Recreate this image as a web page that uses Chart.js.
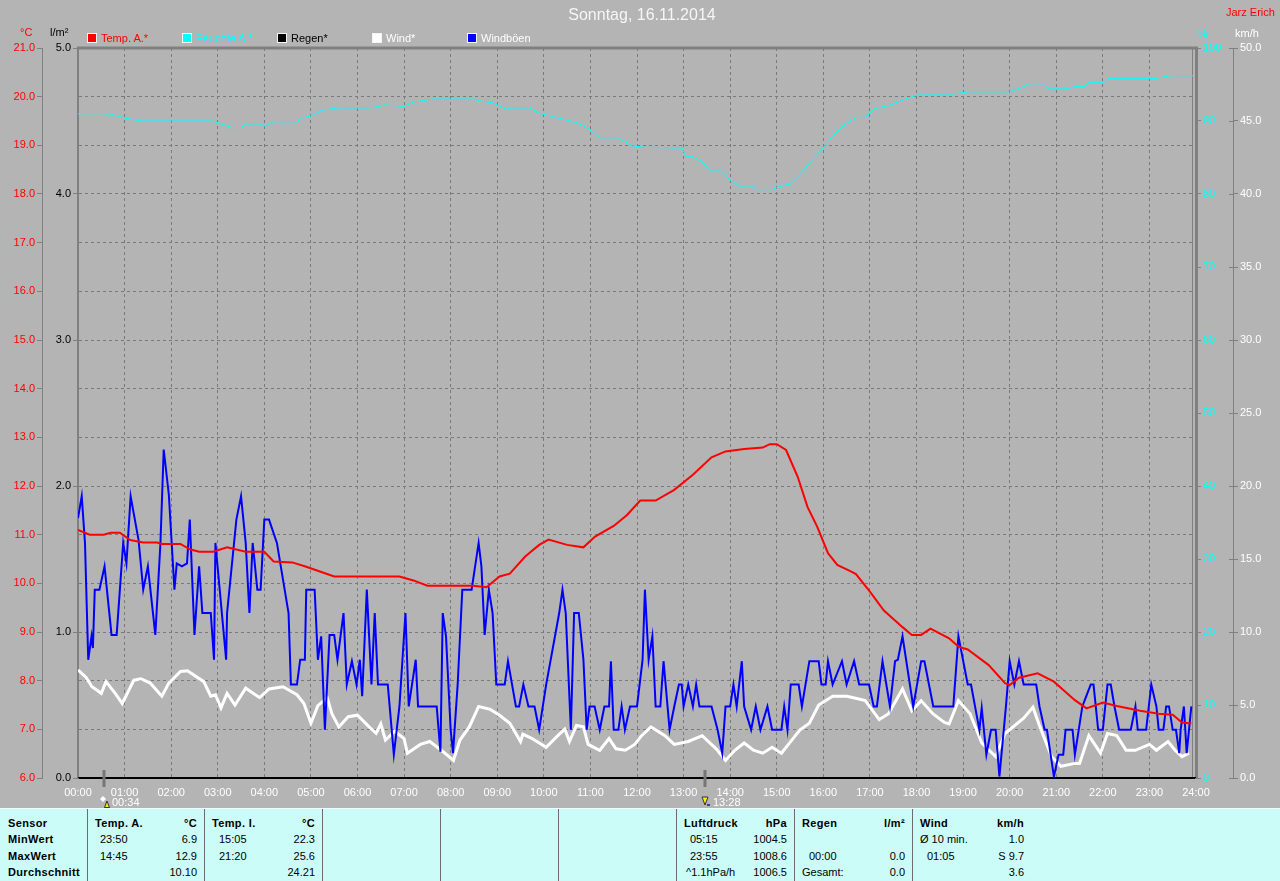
<!DOCTYPE html>
<html>
<head>
<meta charset="utf-8">
<script src="https://cdn.jsdelivr.net/npm/chart.js@4.4.1/dist/chart.umd.min.js"></script>
<style>
html,body{margin:0;padding:0;background:#b4b4b4;width:1280px;height:881px;overflow:hidden;font-family:"Liberation Sans",Arial,sans-serif;}
#c{position:absolute;left:0;top:0;}
.t{position:absolute;font-size:11px;line-height:12px;white-space:nowrap;}
.sq{position:absolute;width:8px;height:8px;border:1px solid #f4f4f4;}
#tbl{position:absolute;left:0;top:808px;width:1280px;height:73px;background:#ccfcf8;border-top:1px solid #eefefe;box-sizing:border-box;}
.col{position:absolute;top:0;height:73px;box-sizing:border-box;}
.cell{position:absolute;font-size:11px;line-height:14px;height:14px;white-space:nowrap;color:#000;}
.b{font-weight:bold;letter-spacing:0.35px;}
</style>
</head>
<body>
<canvas id="c" width="1280" height="808"></canvas>

<div class="t" style="left:0;width:1284px;text-align:center;top:6px;font-size:16px;line-height:18px;color:#f6f6f6;">Sonntag, 16.11.2014</div>
<div class="t" style="left:1226px;top:6px;color:#ff0000;">Jarz Erich</div>
<div class="t" style="left:20px;top:26px;color:#ff0000;">°C</div>
<div class="t" style="left:50px;top:26px;color:#000;">l/m²</div>
<div class="t" style="left:1198px;top:27px;color:#00ffff;">%</div>
<div class="t" style="left:1235px;top:27px;color:#fff;">km/h</div>
<div id="legend"></div>

<div id="tbl"></div>

<script>
// ---------- data ----------
const tickLabels = ['00:00','01:00','02:00','03:00','04:00','05:00','06:00','07:00','08:00','09:00','10:00','11:00','12:00',
  '13:00','14:00','15:00','16:00','17:00','18:00','19:00','20:00','21:00','22:00','23:00','24:00'];

const seriesNames = ['Temp. A.*','Feuchte A.*','Regen*','Wind*','Windböen'];

// Temperature outside (°C), time in hours
const tempTime = [0,0.25,0.55,0.7,0.9, 1.12,1.4,1.7,1.8,2.2, 2.4,2.6,2.9,3.2,3.6, 4.0,4.2,4.6,4.9,5.5,
  6.9,7.2,7.5,8.48,8.77, 9.05,9.27,9.6,9.9,10.1, 10.5,10.85,11.1,11.5,11.78, 12.07,12.4,12.8,13.2,13.6,
  13.9,14.3,14.7,14.85,15.0, 15.2,15.45,15.66,15.87,16.1, 16.3,16.6,16.7,17.0,17.3, 17.7,17.9,18.1,18.3,18.7,
  18.9,19.1,19.55,19.9,20.0, 20.2,20.6,20.95,21.4,21.65, 22.0,22.3,22.8,23.2,23.5, 23.7,23.9];
const tempVal = [11.10,11.0,11.0,11.04,11.04, 10.89,10.84,10.84,10.81,10.81, 10.70,10.65,10.65,10.74,10.65, 10.65,10.45,10.43,10.34,10.14,
  10.14,10.06,9.95,9.95,9.92, 10.14,10.2,10.55,10.79,10.9, 10.79,10.74,10.96,11.18,11.40, 11.70,11.70,11.92,12.23,12.59,
  12.71,12.76,12.79,12.86,12.86, 12.74,12.19,11.57,11.16,10.62, 10.38,10.24,10.19,9.83,9.44, 9.10,8.94,8.94,9.07,8.87,
  8.70,8.64,8.32,7.95,7.91, 8.06,8.15,7.98,7.60,7.43, 7.55,7.48,7.38,7.32,7.30, 7.14,7.12];

// Humidity outside (%)
const humTime = [0,0.6,0.65,0.72,1.0, 1.37,2.9,3.3,3.5,3.6, 3.9,4.0,4.2,4.7,4.8, 5.0,5.25,5.6,6.3,6.6,
  7.0,7.2,7.6,8.5,8.6, 8.9,9.2,9.3,9.7,9.9, 10.2,10.5,10.7,10.95,11.2, 11.6,11.9,12.15,12.97,13.05,
  13.2,13.4,13.55,13.8,14.0, 14.2,14.5,14.55,14.9,15.05, 15.3,15.45,15.7,15.95,16.2, 16.45,16.7,16.9,17.1,17.4,
  17.8,18.1,18.8,19.1,20.0, 20.3,20.4,20.7,20.85,21.2, 21.4,21.6,21.7,22.0,22.1, 23.1,23.45,23.95];
const humVal = [91.0,91.0,90.7,90.9,90.4, 90.0,90.0,89.1,89.1,89.6, 89.6,89.3,89.9,89.9,90.4, 90.7,91.5,91.8,91.8,92.2,
  92.0,92.6,93.0,93.0,92.8, 92.5,91.6,91.8,91.8,91.05, 90.6,90.1,89.8,89.0,87.7, 87.7,86.6,86.4,86.3,85.1,
  85.1,84.4,83.3,83.3,81.9, 81.1,81.1,80.6,80.6,81.0, 81.4,82.4,84.2,86.0,87.9, 89.5,90.5,90.5,91.7,92.1,
  93.1,93.7,93.7,94.0,94.0, 94.7,95.1,95.1,94.4,94.4, 94.7,94.7,95.25,95.25,95.8, 95.8,96.2,96.2];

// Rain (l/m²)
const rainTime = [0,24];
const rainVal = [0,0];

// Wind (km/h)
const windTime = [0,0.17,0.3,0.5,0.6,0.8,0.95,1.2,1.35,1.55, 1.8,1.95,2.2,2.35,2.7,2.85,2.95,3.07,3.2,3.37,
  3.6,3.9,4.1,4.4,4.7,4.85,5.0,5.15,5.35,5.45, 5.6,5.8,6.0,6.25,6.4,6.5,6.6,6.8,7.0,7.07,
  7.35,7.55,7.8,8.06,8.2,8.4,8.6,8.85,9.05,9.27, 9.5,9.55,9.75,10.05,10.3,10.45,10.55,10.7,10.85,10.95,
  11.2,11.4,11.55,11.75,11.95,12.1,12.3,12.6,12.8,13.1, 13.4,13.7,13.9,14.1,14.3,14.5,14.7,14.9,15.1,15.25,
  15.5,15.7,15.9,16.2,16.5,16.65,16.9,17.2,17.4,17.7, 17.9,18.1,18.35,18.6,18.7,18.9,19.15,19.4,19.7,19.9,
  20.3,20.5,20.65,20.9,21.1,21.4,21.5,21.7,21.95,22.1, 22.3,22.5,22.7,23.0,23.15,23.4,23.55,23.7,23.85];
const windVal = [7.4,6.9,6.25,5.8,6.6,5.8,5.1,6.7,6.8,6.5, 5.6,6.5,7.3,7.35,6.6,5.6,5.7,4.8,5.8,5.0,
  6.15,5.5,6.1,6.25,5.7,5.1,3.75,4.95,5.5,4.4, 3.5,4.2,4.3,3.5,3.06,3.7,2.6,3.2,2.7,1.7,
  2.3,2.5,1.9,1.2,2.6,3.5,4.9,4.7,4.3,3.75, 2.5,3.0,2.7,2.1,2.9,3.35,2.5,3.6,3.5,2.3,
  1.9,2.7,2.0,1.9,2.3,2.9,3.5,2.9,2.3,2.5, 2.9,2.0,1.2,1.9,2.4,1.9,1.7,2.1,1.7,2.3,
  3.3,3.75,5.0,5.6,5.6,5.5,5.3,4.0,4.4,6.1, 4.6,5.3,4.4,3.8,3.7,5.3,4.4,2.4,1.46,3.05,
  4.1,4.85,3.5,1.46,0.8,1.0,1.0,2.9,1.7,3.05, 2.9,1.9,1.9,2.3,1.9,2.5,1.9,1.46,1.7];

// Wind gusts (km/h)
const gustTime = [0,0.08,0.15,0.22,0.29,0.32,0.36,0.46,0.57,0.72, 0.83,0.97,1.04,1.13,1.3,1.4,1.5,1.66,1.77,1.84,
  1.95,2.07,2.12,2.23,2.34,2.4,2.5,2.6,2.67,2.85, 2.92,2.95,3.18,3.2,3.4,3.5,3.6,3.68,3.75,3.85,
  3.92,4.0,4.1,4.27,4.52,4.57,4.7,4.77,4.87,4.9, 5.08,5.15,5.22,5.3,5.4,5.5,5.57,5.7,5.77,5.88,
  5.98,6.05,6.1,6.2,6.3,6.37,6.44,6.65,6.78,6.9, 7.03,7.1,7.25,7.3,7.7,7.78,7.83,7.9,8.0,8.05,
  8.15,8.25,8.45,8.6,8.66,8.73,8.82,8.9,8.98,9.16, 9.23,9.4,9.47,9.56,9.67,9.8,9.9,10.05,10.33,10.4,
  10.47,10.58,10.65,10.75,10.85,10.92,10.98,11.09,11.2,11.3, 11.4,11.44,11.5,11.6,11.67,11.74,11.85,12.0,12.12,12.17,
  12.25,12.33,12.4,12.5,12.57,12.7,12.8,12.9,12.96,13.0, 13.1,13.2,13.27,13.34,13.6,13.73,13.83,13.9,14.0,14.07,
  14.14,14.25,14.3,14.45,14.55,14.65,14.8,14.9,15.1,15.16, 15.23,15.3,15.47,15.54,15.7,15.9,15.96,16.05,16.1,16.2,
  16.4,16.5,16.66,16.77,16.98,17.08,17.15,17.27,17.43,17.54, 17.6,17.7,17.93,18.1,18.17,18.36,18.79,18.9,19.1,19.17,
  19.35,19.4,19.5,19.6,19.7,19.78,19.92,20.0,20.1,20.2, 20.3,20.57,20.64,20.75,20.8,20.95,21.05,21.15,21.2,21.35,
  21.4,21.56,21.74,21.8,21.9,22.0,22.1,22.17,22.25,22.35, 22.6,22.7,22.75,22.93,23.04,23.15,23.2,23.3,23.36,23.42,
  23.5,23.57,23.64,23.67,23.74,23.8,23.9];
const gustVal = [17.8,19.3,16.1,8.1,9.7,8.9,12.9,12.9,14.5,9.8, 9.8,16.1,14.7,19.3,16.3,12.9,14.5,9.8,16.1,22.5,
  19.4,12.9,14.7,14.5,14.7,17.7,9.8,14.5,11.3,11.3, 8.1,16.1,8.1,11.3,17.7,19.3,16.1,11.3,16.1,12.9,
  12.9,17.7,17.7,16.1,11.3,6.4,6.4,8.1,8.1,12.9, 12.9,8.1,9.7,3.3,9.8,9.8,8.1,11.3,6.4,8.0,
  6.4,8.1,5.6,12.9,6.4,11.3,6.4,6.4,1.6,4.9, 11.3,4.9,8.1,4.9,4.9,1.8,11.3,9.7,3.3,1.7,
  6.4,12.9,12.9,16.1,14.5,9.8,12.9,11.3,6.4,6.4, 8.0,4.9,4.9,6.4,4.9,4.9,3.3,6.4,11.3,12.9,
  11.3,3.3,11.3,11.3,8.1,3.3,4.9,4.9,3.3,4.9, 4.9,8.0,3.3,3.3,4.9,3.3,4.9,4.9,8.1,12.9,
  8.1,9.7,4.9,4.9,8.0,3.3,4.9,6.4,6.4,4.9, 6.4,4.9,6.4,4.9,4.9,3.3,1.7,4.9,4.9,6.4,
  4.9,8.0,4.9,3.3,4.9,3.3,4.9,3.3,3.3,4.9, 3.3,6.4,6.4,4.9,8.0,8.0,6.4,6.4,8.0,6.4,
  8.0,6.4,8.0,6.4,6.4,4.9,4.9,8.0,4.9,8.0, 8.1,9.7,4.9,8.0,8.0,4.9,4.9,9.7,6.4,6.4,
  3.3,4.8,1.6,3.3,3.3,0.1,4.9,8.0,6.4,8.0, 6.4,6.4,4.9,3.3,3.3,0.1,1.6,1.6,3.3,3.3,
  1.6,4.9,6.4,6.4,3.3,3.3,6.4,6.4,4.9,3.3, 3.3,4.9,3.3,3.3,6.4,4.9,3.3,3.3,4.9,4.9,
  3.3,3.3,1.7,3.3,4.9,1.7,4.9];

// event markers below the time axis
const markerTimes = ['00:34','13:28'];

// statistics table
const tableCols = [
  {head:['Sensor',''], rows:[['MinWert',''],['MaxWert',''],['Durchschnitt','']]},
  {head:['Temp. A.','°C'], rows:[['23:50','6.9'],['14:45','12.9'],['','10.10']]},
  {head:['Temp. I.','°C'], rows:[['15:05','22.3'],['21:20','25.6'],['','24.21']]},
  {head:['',''], rows:[['',''],['',''],['','']]},
  {head:['',''], rows:[['',''],['',''],['','']]},
  {head:['',''], rows:[['',''],['',''],['','']]},
  {head:['Luftdruck','hPa'], rows:[['05:15','1004.5'],['23:55','1008.6'],['^1.1hPa/h','1006.5']]},
  {head:['Regen','l/m²'], rows:[['',''],['00:00','0.0'],['Gesamt:','0.0']]},
  {head:['Wind','km/h'], rows:[['Ø 10 min.','1.0'],['01:05','S 9.7'],['','3.6']]}
];

// ---------- helpers ----------
const zip = (t, v) => t.slice(0, Math.min(t.length, v.length)).map((x, i) => ({x: x, y: v[i]}));
const toHours = s => { const p = s.split(':'); return (+p[0]) + (+p[1]) / 60; };
const FONT = '"Liberation Sans", Arial, sans-serif';

// ---------- legend (HTML) ----------
const legendColors = ['#ff0000','#00ffff','#000000','#ffffff','#0000ff'];
const legendText = ['#ff0000','#00ffff','#000000','#ffffff','#ffffff'];
const lg = document.getElementById('legend');
seriesNames.forEach((n, i) => {
  const x0 = 87 + i * 95;
  const s = document.createElement('div');
  s.className = 'sq'; s.style.left = x0 + 'px'; s.style.top = '33px'; s.style.background = legendColors[i];
  lg.appendChild(s);
  const t = document.createElement('div');
  t.className = 't'; t.style.left = (x0 + 14) + 'px'; t.style.top = '32px'; t.style.color = legendText[i];
  t.textContent = n;
  lg.appendChild(t);
});

// ---------- table ----------
const colLeft = [0,88,205,323,441,559,677,795,913];
const colWidth = [88,117,118,118,118,118,118,118,118];
const indents = [[8,8,8,8],[7,12,12,12],[7,14,14,14],[7,7,7,7],[7,7,7,7],[7,7,7,7],[7,13,13,9],[7,14,14,7],[7,7,14,7]];
const rowCenters = [14, 30, 47, 63];
const tbl = document.getElementById('tbl');
tableCols.forEach((c, ci) => {
  const col = document.createElement('div');
  col.className = 'col';
  col.style.left = colLeft[ci] + 'px';
  col.style.width = colWidth[ci] + 'px';
  if (ci < 8) col.style.borderRight = '1px solid #6c6c6c';
  const all = [c.head].concat(c.rows);
  all.forEach((r, ri) => {
    const bold = (ri === 0) || (ci === 0);
    const l = document.createElement('div');
    l.className = 'cell' + (bold ? ' b' : '');
    l.style.left = indents[ci][ri] + 'px';
    l.style.top = (rowCenters[ri] - 7) + 'px';
    l.textContent = r[0];
    col.appendChild(l);
    const rr = document.createElement('div');
    rr.className = 'cell' + (bold ? ' b' : '');
    rr.style.right = '7px';
    rr.style.top = (rowCenters[ri] - 7) + 'px';
    rr.textContent = r[1];
    col.appendChild(rr);
  });
  tbl.appendChild(col);
});

// ---------- plugins ----------
const framePlugin = {
  id: 'frame',
  beforeDatasetsDraw(chart) {
    const {ctx, chartArea: a} = chart;
    ctx.save();
    ctx.strokeStyle = '#808080';
    ctx.lineWidth = 3;
    ctx.beginPath(); ctx.moveTo(a.left - 1, a.top); ctx.lineTo(a.right + 2, a.top); ctx.stroke();
    ctx.lineWidth = 1;
    ctx.beginPath(); ctx.moveTo(a.right - 3.5, a.top); ctx.lineTo(a.right - 3.5, a.bottom); ctx.stroke();
    ctx.restore();
  },
  afterDraw(chart) {
    const {ctx, chartArea: a, scales} = chart;
    // small left-pointing ticks on the km/h axis line
    const w = scales.yW;
    ctx.save();
    ctx.strokeStyle = '#808080'; ctx.lineWidth = 1;
    w.ticks.forEach(t => {
      const py = Math.round(w.getPixelForValue(t.value)) + 0.5;
      ctx.beginPath(); ctx.moveTo(w.left - 4, py); ctx.lineTo(w.left, py); ctx.stroke();
    });
    ctx.restore();
    markerTimes.forEach((m, i) => {
      const px = Math.round(scales.x.getPixelForValue(toHours(m)));
      ctx.save();
      ctx.strokeStyle = '#777';
      ctx.lineWidth = 3;
      ctx.beginPath(); ctx.moveTo(px, a.bottom - 8); ctx.lineTo(px, a.bottom + 9); ctx.stroke();
      if (i === 0) {
        ctx.fillStyle = '#ffffff';
        ctx.beginPath(); ctx.moveTo(px - 4, a.bottom + 21); ctx.lineTo(px - 1, a.bottom + 18); ctx.lineTo(px + 2, a.bottom + 21); ctx.lineTo(px - 1, a.bottom + 24); ctx.closePath(); ctx.fill();
        ctx.fillStyle = '#ffee00'; ctx.strokeStyle = '#333'; ctx.lineWidth = 1;
        ctx.beginPath(); ctx.moveTo(px + 0.5, a.bottom + 29.5); ctx.lineTo(px + 3, a.bottom + 23); ctx.lineTo(px + 5.5, a.bottom + 29.5); ctx.closePath(); ctx.fill(); ctx.stroke();
      } else {
        ctx.fillStyle = '#ffee00'; ctx.strokeStyle = '#333'; ctx.lineWidth = 1;
        ctx.beginPath(); ctx.moveTo(px - 3, a.bottom + 19); ctx.lineTo(px + 3, a.bottom + 19); ctx.lineTo(px, a.bottom + 27); ctx.closePath(); ctx.fill(); ctx.stroke();
        ctx.fillStyle = '#3040c0'; ctx.fillRect(px + 2, a.bottom + 26, 3, 2);
      }
      ctx.fillStyle = '#ffffff';
      ctx.font = '11px ' + FONT;
      ctx.textBaseline = 'middle';
      ctx.textAlign = 'left';
      ctx.fillText(m, px + 8, a.bottom + 25);
      ctx.restore();
    });
  }
};

// ---------- chart ----------
Chart.defaults.font.family = FONT;
Chart.defaults.font.size = 11;

new Chart(document.getElementById('c').getContext('2d'), {
  type: 'line',
  data: {
    datasets: [
      {label: seriesNames[0], data: zip(tempTime, tempVal), yAxisID: 'yT', borderColor: '#ff0000', borderWidth: 2, order: 0},
      {label: seriesNames[1], data: zip(humTime, humVal), yAxisID: 'yH', borderColor: '#00ffff', borderWidth: 1, order: 3},
      {label: seriesNames[2], data: zip(rainTime, rainVal), yAxisID: 'yR', borderColor: '#000000', borderWidth: 2, order: 4},
      {label: seriesNames[3], data: zip(windTime, windVal), yAxisID: 'yW', borderColor: '#ffffff', borderWidth: 3, order: 2},
      {label: seriesNames[4], data: zip(gustTime, gustVal), yAxisID: 'yW', borderColor: '#0000ff', borderWidth: 2, order: 1}
    ]
  },
  options: {
    responsive: false,
    animation: false,
    devicePixelRatio: 1,
    layout: {padding: {top: 48, left: 0, right: 0, bottom: 0}},
    plugins: {legend: {display: false}, tooltip: {enabled: false}, title: {display: false}},
    elements: {point: {radius: 0, hoverRadius: 0}, line: {tension: 0, fill: false}},
    scales: {
      x: {
        type: 'linear', min: 0, max: 24, position: 'bottom',
        afterFit(s) { s.height = 30; },
        ticks: {stepSize: 1, autoSkip: false, maxRotation: 0, color: '#ffffff', padding: 8,
          callback: (v, i) => tickLabels[i]},
        grid: {color: '#7a7a7a', lineWidth: 1, drawTicks: false},
        border: {display: true, color: '#000000', width: 2, dash: [3, 3]}
      },
      yT: {
        position: 'left', weight: 2, min: 6, max: 21,
        afterFit(s) { s.width = 42; },
        ticks: {stepSize: 1, color: '#ff0000', padding: 2, callback: v => v.toFixed(1)},
        grid: {color: '#7a7a7a', lineWidth: 1, tickLength: 5, tickColor: '#808080'},
        border: {display: true, color: '#808080', width: 1, dash: [3, 3]}
      },
      yR: {
        position: 'left', weight: 1, min: 0, max: 5,
        afterFit(s) { s.width = 36; },
        ticks: {stepSize: 1, color: '#000000', padding: 2, callback: v => v.toFixed(1)},
        grid: {drawOnChartArea: false, tickLength: 5, color: '#808080'},
        border: {display: true, color: '#808080', width: 2}
      },
      yH: {
        position: 'right', weight: 1, min: 0, max: 100,
        afterFit(s) { s.width = 37; },
        ticks: {stepSize: 10, color: '#00ffff', padding: 2},
        grid: {drawOnChartArea: false, tickLength: 5, color: '#808080'},
        border: {display: true, color: '#808080', width: 3}
      },
      yW: {
        position: 'right', weight: 2, min: 0, max: 50,
        afterFit(s) { s.width = 47; },
        ticks: {stepSize: 5, color: '#ffffff', padding: 2, callback: v => v.toFixed(1)},
        grid: {drawOnChartArea: false, tickLength: 5, color: '#808080'},
        border: {display: true, color: '#808080', width: 1}
      }
    }
  },
  plugins: [framePlugin]
});
</script>
</body>
</html>
